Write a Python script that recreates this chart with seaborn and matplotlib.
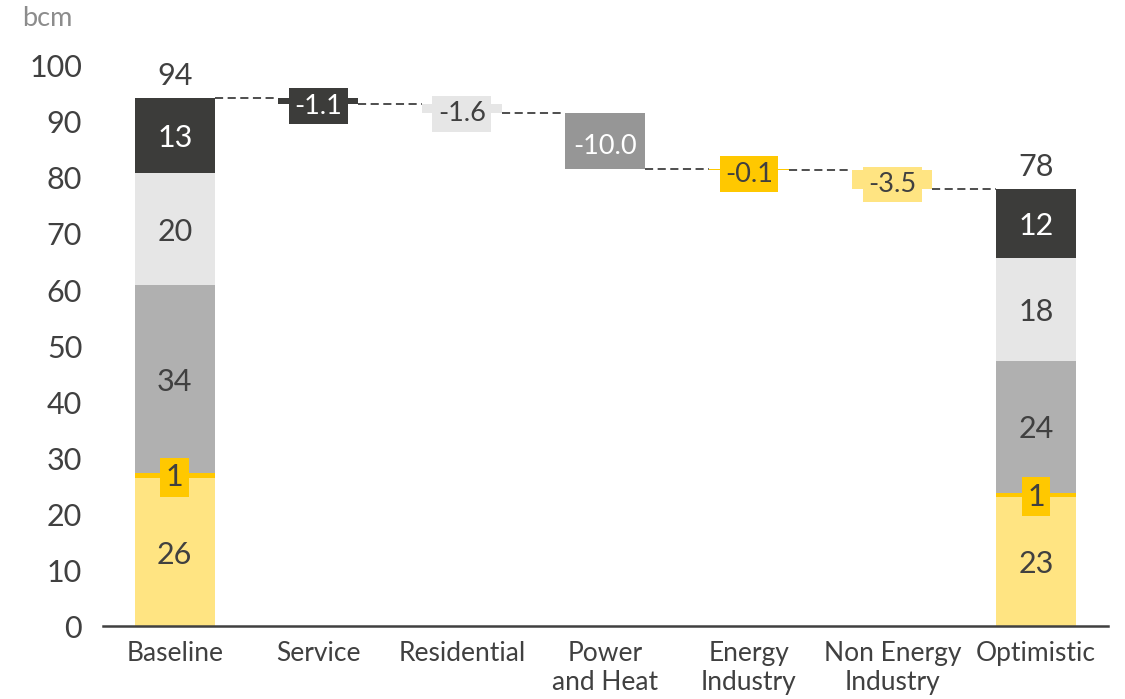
import numpy as np
import pandas as pd
import matplotlib
matplotlib.use("Agg")
import matplotlib.pyplot as plt
import seaborn as sns

# Categories along the x axis
categories = ["Baseline", "Service", "Residential", "Power\nand Heat",
              "Energy\nIndustry", "Non Energy\nIndustry", "Optimistic"]

# Stacked components of the two scenario totals (bottom to top)
segment_names = ["Non Energy Industry", "Energy Industry", "Power and Heat",
                 "Residential", "Service"]
baseline_parts = [26.4, 0.9, 33.6, 20.0, 13.4]
optimistic_parts = [23.0, 0.8, 23.6, 18.4, 12.2]

# Changes by sector between the two scenarios
delta_values = [-1.1, -1.6, -10.0, -0.1, -3.5]

# Colours by sector
sector_colors = {
    "Service": "#3c3c3a",
    "Residential": "#e6e6e6",
    "Power and Heat": "#b0b0b0",
    "Energy Industry": "#ffc800",
    "Non Energy Industry": "#ffe482",
}
delta_colors = ["#3c3c3a", "#e6e6e6", "#969696", "#ffc800", "#ffe482"]
delta_text_colors = ["white", "#404040", "white", "#404040", "#404040"]
delta_boxed = [True, True, False, True, True]

TEXT = "#404040"
BAR_W = 0.557

sns.set_theme(style="white")
plt.rcParams["font.family"] = ["Lato", "DejaVu Sans"]

fig = plt.figure(figsize=(11.25, 6.99), dpi=100)
ax = fig.add_axes([0.0916, 0.1044, 0.893, 0.8012])

# Stacked scenario bars
bottoms = np.zeros(2)
for name, hb, ho in zip(segment_names, baseline_parts, optimistic_parts):
    seg = pd.DataFrame({"cat": ["Baseline", "Optimistic"], "val": [hb, ho]})
    sns.barplot(data=seg, x="cat", y="val", order=categories, color=sector_colors[name],
                saturation=1, width=BAR_W, bottom=bottoms.copy(), linewidth=0,
                errorbar=None, ax=ax)
    bottoms += np.array([hb, ho])

baseline_total = sum(baseline_parts)
optimistic_total = sum(optimistic_parts)

# Floating bars for the sector changes
running = baseline_total
levels = [baseline_total]
for i, d in enumerate(delta_values):
    end = running + d
    one = pd.DataFrame({"cat": [categories[i + 1]], "val": [abs(d)]})
    sns.barplot(data=one, x="cat", y="val", order=categories, color=delta_colors[i],
                saturation=1, width=BAR_W, bottom=min(running, end), linewidth=0,
                errorbar=None, ax=ax)
    running = end
    levels.append(running)

# Dashed connectors between consecutive bars
for i in range(len(categories) - 1):
    y = levels[i]
    ax.plot([i + BAR_W / 2, i + 1 - BAR_W / 2], [y, y], color=TEXT, lw=1.3,
            linestyle=(0, (4.5, 2.5)), zorder=1)

# Segment labels on the scenario bars
seg_text_colors = [TEXT, TEXT, TEXT, TEXT, "white"]
for xi, parts in [(0, baseline_parts), (6, optimistic_parts)]:
    b = 0
    for k, h in enumerate(parts):
        label = f"{round(h):d}"
        y = b + h / 2
        if k == 1:
            ax.text(xi, y - 0.3, label, ha="center", va="center", fontsize=22,
                    color=TEXT, zorder=5,
                    bbox=dict(boxstyle="square,pad=0.18", fc=sector_colors["Energy Industry"],
                              ec="none"))
        else:
            ax.text(xi, y - 0.5, label, ha="center", va="center", fontsize=22,
                    color=seg_text_colors[k], zorder=5)
        b += h

# Totals above the scenario bars
ax.text(0, baseline_total + 1.4, f"{round(baseline_total):d}", ha="center", va="bottom",
        fontsize=22, color=TEXT)
ax.text(6, optimistic_total + 1.4, f"{round(optimistic_total):d}", ha="center", va="bottom",
        fontsize=22, color=TEXT)

# Labels on the change bars
for i, d in enumerate(delta_values):
    mid = levels[i] + d / 2 - 0.9
    kw = {}
    if delta_boxed[i]:
        kw["bbox"] = dict(boxstyle="square,pad=0.2", fc=delta_colors[i], ec="none")
    ax.text(i + 1, mid, f"{d:.1f}", ha="center", va="center", fontsize=19.5,
            color=delta_text_colors[i], zorder=5, **kw)

ax.set_xlim(-0.5, 6.5)
ax.set_ylim(0, 100)
ax.set_yticks(np.arange(0, 101, 10))
ax.set_xlabel("")
ax.set_ylabel("")
ax.set_xticks(range(len(categories)))
ax.set_xticklabels(categories, fontsize=19, color=TEXT)
ax.tick_params(axis="y", labelsize=22, labelcolor=TEXT, length=0, pad=15)
ax.tick_params(axis="x", length=0, pad=11)
for s in ["top", "right", "left"]:
    ax.spines[s].set_visible(False)
ax.spines["bottom"].set_color(TEXT)
ax.spines["bottom"].set_linewidth(1.8)
ax.grid(False)

fig.text(22 / 1125, 1 - 18 / 699, "bcm", fontsize=19.5, color="#8c8c8c",
         ha="left", va="center")

fig.savefig("out.png", dpi=100)
